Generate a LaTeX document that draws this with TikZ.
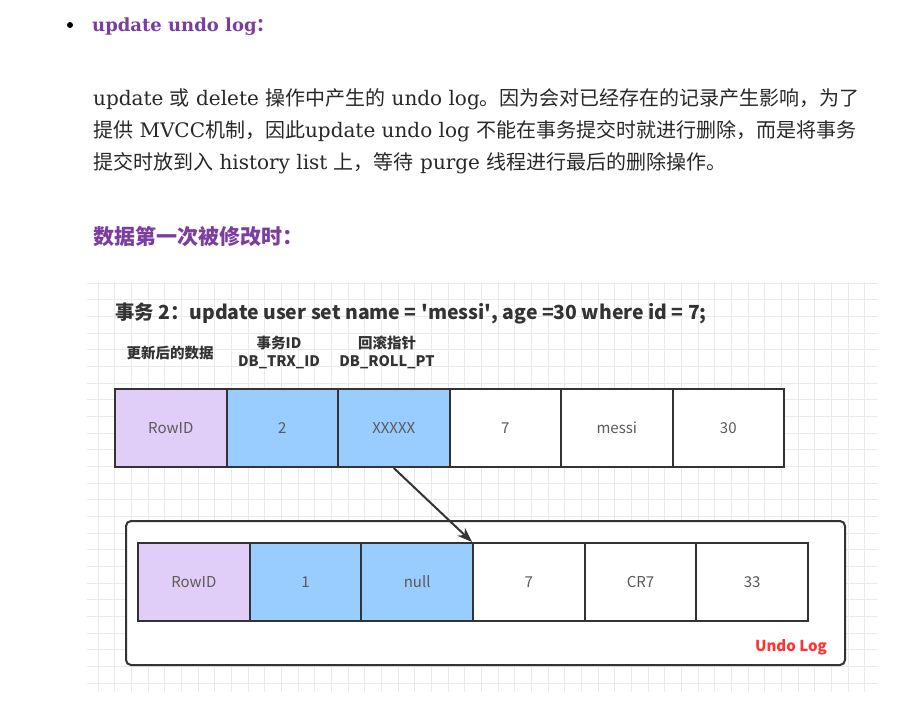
\documentclass[tikz,border=0pt]{standalone}
\usepackage{fontspec}
\setmainfont{DejaVu Serif}
\newfontfamily\cjk{Noto Sans CJK SC}
\usetikzlibrary{arrows.meta}
\definecolor{headpurple}{RGB}{123,61,160}
\definecolor{bodytext}{RGB}{40,40,40}
\definecolor{cellpurple}{RGB}{225,206,248}
\definecolor{cellblue}{RGB}{153,204,255}
\definecolor{edgecol}{RGB}{51,51,51}
\definecolor{celltext}{RGB}{90,90,90}
\definecolor{gridline}{RGB}{234,234,234}
\definecolor{undored}{RGB}{255,51,51}
\definecolor{titlecol}{RGB}{51,51,51}
\newcommand\zh[1]{{\cjk #1}}
\begin{document}
\begin{tikzpicture}[x=1pt,y=-1pt,
  paraline/.style={anchor=base west,inner sep=0pt,font=\fontsize{20}{20}\selectfont,text=bodytext},
  headline/.style={anchor=base west,inner sep=0pt,font=\fontsize{18}{18}\selectfont\bfseries,text=headpurple},
  cell/.style={draw=edgecol,line width=2pt,minimum height=78pt,inner sep=0pt,
    font=\cjk\fontsize{15}{15}\selectfont,text=celltext},
  colhead/.style={align=center,inner sep=0pt,font=\cjk\fontsize{14.5}{18}\selectfont\bfseries,text=titlecol},
  ptr/.style={draw=edgecol,line width=2pt,-{Stealth[length=15pt,width=11pt]}}
]
\fill[white] (0,0) rectangle (911,713);
\useasboundingbox (0,0) rectangle (911,713);
% grid background
\begin{scope}
\clip (87,282) rectangle (877,692);
\foreach \k in {0,...,47} \draw[gridline,line width=0.8pt] ({81.3+16.67*\k},282) -- ({81.3+16.67*\k},692);
\foreach \k in {0,...,25} \draw[gridline,line width=0.8pt] (87,{283+16.67*\k}) -- (877,{283+16.67*\k});
\end{scope}
% text part
\fill[black] (70,25) circle (3);
\node[headline] (h1) at (92,31) {update undo log{\cjk ：}};
\node[paraline] (p1) at (93,105) {update \zh{或} delete \zh{操作中产生的} undo log\zh{。因为会对已经存在的记录产生影响，为了}};
\node[paraline] (p2) at (93,137) {\zh{提供} MVCC\zh{机制，因此}update undo log \zh{不能在事务提交时就进行删除，而是将事务}};
\node[paraline] (p3) at (93,169) {\zh{提交时放到入} history list \zh{上，等待} purge \zh{线程进行最后的删除操作。}};
\node[headline,font=\cjk\fontsize{21}{21}\selectfont\bfseries] (h2) at (93,244) {数据第一次被修改时：};
% diagram
\node[anchor=west,inner sep=0pt,font=\cjk\fontsize{19.4}{19.4}\selectfont\bfseries,text=titlecol] (title) at (115,314)
  {事务 2：update user set name = \textquotesingle messi\textquotesingle, age =30 where id = 7;};
\node[colhead] (c1) at (170,353) {更新后的数据};
\node[colhead] (c2) at (279,352) {事务ID\\DB\_TRX\_ID};
\node[colhead] (c3) at (387,352) {回滚指针\\DB\_ROLL\_PT};
\foreach \i/\t/\f in {1/RowID/cellpurple,2/2/cellblue,3/XXXXX/cellblue,4/7/white,5/messi/white,6/30/white}
  \node[cell,fill=\f,minimum width=111.5pt] (t\i) at ({115+111.5*(\i-0.5)},428) {\t};
\node[draw=edgecol,line width=2pt,rounded corners=5pt,fill=white,minimum width=719pt,minimum height=144pt,inner sep=0pt] (undo) at (485.5,593) {};
\foreach \i/\t/\f in {1/RowID/cellpurple,2/1/cellblue,3/null/cellblue,4/7/white,5/CR7/white,6/33/white}
  \node[cell,fill=\f,minimum width=111.67pt] (b\i) at ({138+111.67*(\i-0.5)},582) {\t};
\node[inner sep=0pt,font=\cjk\fontsize{15}{15}\selectfont\bfseries,text=undored] (ul) at (791,647) {Undo Log};
\draw[ptr] (t3.south) -- (b4.north west);
\end{tikzpicture}
\end{document}
